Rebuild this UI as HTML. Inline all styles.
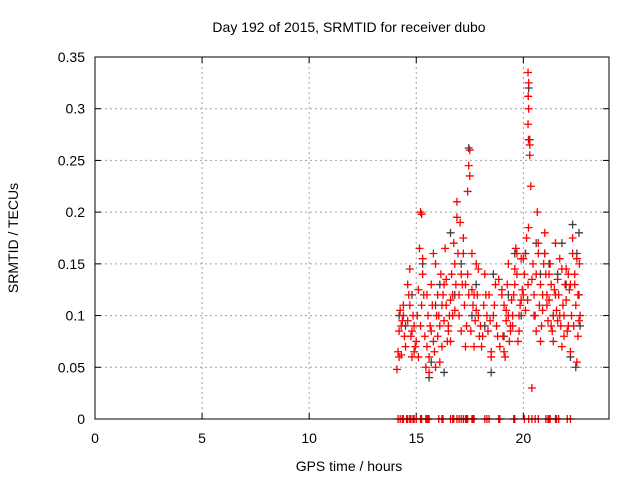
<!DOCTYPE html>
<html><head><meta charset="utf-8">
<style>
body{margin:0;background:#fff;}
svg{display:block;font-family:"Liberation Sans",sans-serif;}
</style></head>
<body>
<svg id="chart" width="640" height="480" viewBox="0 0 640 480" xmlns="http://www.w3.org/2000/svg">
<text x="349" y="32" font-size="14" text-anchor="middle" fill="#000">Day 192 of 2015, SRMTID for receiver dubo</text>
<text x="18" y="238" font-size="14" text-anchor="middle" fill="#000" transform="rotate(-90 18 238)">SRMTID / TECUs</text>
<text x="349" y="471" font-size="14" text-anchor="middle" fill="#000">GPS time / hours</text>
<g id="grid"></g>
<g id="ticks"></g>
<g id="black"></g>
<g id="red"></g>
<rect x="95" y="57" width="514" height="362" fill="none" stroke="#000" stroke-width="1"/>
</svg>
<script>
const xTicks=[0,5,10,15,20];
const yTicks=[0,0.05,0.1,0.15,0.2,0.25,0.3,0.35];
const yTickLabels=["0","0.05","0.1","0.15","0.2","0.25","0.3","0.35"];
const redT=[14.1,14.15,14.2,14.25,14.3,14.35,14.4,14.45,14.5,14.2,14.3,14.4,14.6,14.65,14.7,14.75,14.8,14.85,14.9,14.95,14.6,14.7,14.8,14.9,15.0,15.05,15.1,15.15,15.2,15.25,15.3,15.1,15.2,15.25,15.3,15.35,15.4,15.45,15.5,15.55,15.6,15.65,15.7,15.75,15.8,15.85,15.9,15.95,15.5,15.6,15.7,15.8,15.9,16.0,16.05,16.1,16.15,16.2,16.25,16.3,16.35,16.4,16.45,16.0,16.1,16.2,16.3,16.4,16.5,16.55,16.6,16.65,16.7,16.75,16.8,16.85,16.9,16.95,16.5,16.6,16.7,16.8,16.9,17.0,17.05,17.1,17.15,17.2,17.25,17.3,17.35,17.4,17.45,17.5,17.4,17.45,17.5,17.0,17.1,17.2,17.3,17.55,17.6,17.65,17.7,17.75,17.8,17.85,17.9,17.95,17.6,17.7,17.8,17.9,18.0,18.05,18.1,18.15,18.2,18.25,18.3,18.35,18.4,18.45,18.5,18.6,18.7,18.8,18.5,18.65,18.75,18.85,18.9,19.0,19.05,19.1,19.15,19.2,19.25,19.3,19.35,19.4,19.45,19.0,19.1,19.2,19.3,19.4,19.5,19.55,19.6,19.65,19.7,19.75,19.8,19.85,19.9,19.95,19.5,19.6,19.7,19.8,19.9,20.0,20.05,20.1,20.15,20.0,20.1,20.2,20.22,20.24,20.22,20.25,20.23,20.25,20.22,20.24,20.3,20.3,20.35,20.4,20.45,20.5,20.55,20.6,20.65,20.7,20.75,20.8,20.85,20.9,20.95,20.4,20.5,20.6,20.7,20.8,20.9,21.0,21.05,21.1,21.15,21.2,21.25,21.3,21.35,21.4,21.45,21.0,21.1,21.2,21.3,21.4,21.5,21.55,21.6,21.65,21.7,21.75,21.8,21.85,21.9,21.95,21.5,21.6,21.7,21.8,21.9,22.0,22.05,22.1,22.15,22.2,22.25,22.3,22.35,22.4,22.45,22.5,22.55,22.6,22.65,22.0,22.1,22.2,22.3,22.4,22.5,22.6,22.55,22.62];
const redV=[0.048,0.065,0.085,0.105,0.062,0.095,0.11,0.08,0.07,0.06,0.09,0.1,0.095,0.12,0.145,0.08,0.06,0.1,0.09,0.07,0.13,0.11,0.085,0.065,0.075,0.1,0.125,0.165,0.2,0.198,0.155,0.06,0.09,0.11,0.14,0.12,0.08,0.05,0.07,0.1,0.045,0.09,0.13,0.11,0.075,0.065,0.15,0.1,0.12,0.06,0.085,0.16,0.05,0.08,0.1,0.09,0.14,0.07,0.12,0.095,0.165,0.11,0.075,0.12,0.055,0.11,0.13,0.135,0.09,0.1,0.075,0.14,0.12,0.17,0.105,0.13,0.195,0.16,0.085,0.115,0.1,0.15,0.21,0.12,0.19,0.085,0.13,0.16,0.11,0.07,0.09,0.14,0.12,0.235,0.22,0.245,0.26,0.1,0.14,0.175,0.13,0.085,0.125,0.11,0.07,0.095,0.15,0.12,0.1,0.08,0.16,0.12,0.105,0.145,0.09,0.07,0.08,0.11,0.14,0.12,0.1,0.085,0.12,0.095,0.065,0.1,0.13,0.08,0.06,0.11,0.09,0.135,0.07,0.12,0.08,0.11,0.06,0.095,0.13,0.1,0.075,0.09,0.115,0.125,0.065,0.105,0.15,0.085,0.1,0.12,0.13,0.165,0.14,0.075,0.1,0.11,0.155,0.125,0.09,0.145,0.16,0.085,0.115,0.12,0.14,0.105,0.175,0.155,0.16,0.115,0.13,0.185,0.335,0.325,0.312,0.3,0.285,0.27,0.265,0.255,0.225,0.03,0.15,0.12,0.1,0.14,0.2,0.16,0.11,0.13,0.09,0.12,0.15,0.135,0.1,0.085,0.17,0.075,0.105,0.18,0.14,0.12,0.095,0.115,0.15,0.13,0.085,0.1,0.125,0.16,0.11,0.14,0.09,0.075,0.17,0.105,0.135,0.12,0.1,0.09,0.145,0.11,0.08,0.13,0.12,0.095,0.155,0.07,0.1,0.115,0.085,0.14,0.125,0.065,0.1,0.16,0.09,0.13,0.11,0.155,0.08,0.12,0.1,0.145,0.09,0.13,0.175,0.14,0.055,0.095,0.12,0.15,0.12,0.11,0.1,0.085,0.055,0.058];
const blackT=[14.2,14.5,14.8,15.3,15.6,15.7,15.9,16.1,16.3,16.6,16.8,17.1,17.45,17.6,17.8,18.2,18.5,18.6,19.1,19.3,19.6,19.9,20.1,20.25,20.3,20.6,20.8,21.0,21.2,21.4,21.6,21.8,22.0,22.2,22.3,22.45,22.5,22.6,22.65];
const blackV=[0.1,0.09,0.12,0.15,0.04,0.055,0.11,0.13,0.045,0.18,0.12,0.15,0.262,0.1,0.13,0.09,0.045,0.14,0.08,0.12,0.16,0.1,0.16,0.32,0.27,0.17,0.14,0.16,0.15,0.1,0.14,0.17,0.13,0.06,0.188,0.05,0.16,0.18,0.09];
const zeroT=[14.15,14.25,14.35,14.4,14.55,14.6,14.7,14.75,14.85,14.9,15.0,15.2,15.25,15.45,15.5,15.55,15.6,16.05,16.2,16.25,16.6,16.7,16.75,16.9,17.0,17.1,17.2,17.3,17.35,17.4,17.6,17.65,17.7,18.2,18.3,18.4,18.85,18.9,19.55,19.6,20.05,20.25,20.4,20.55,20.7,21.05,21.15,21.2,21.25,21.5,21.55,21.65,22.05,22.2];
const NS="http://www.w3.org/2000/svg";
const X0=95,X1=609,Y0=419,Y1=57;
function xs(t){return X0+(t/24)*(X1-X0);}
function ys(v){return Y0-(v/0.35)*(Y0-Y1);}
function mk(tag,a,parent){const e=document.createElementNS(NS,tag);for(const k in a)e.setAttribute(k,a[k]);parent.appendChild(e);return e;}
const grid=document.getElementById('grid'),ticks=document.getElementById('ticks');
xTicks.forEach(t=>{const x=xs(t);
 if(t>0){const g=mk('line',{x1:x,x2:x,y1:Y1,y2:Y0,stroke:'#a0a0a0','stroke-dasharray':'2,3'},grid);
 
 }
 mk('line',{x1:x,x2:x,y1:Y0,y2:Y0-6,stroke:'#000'},ticks);mk('line',{x1:x,x2:x,y1:Y1,y2:Y1+6,stroke:'#000'},ticks);
 const l=mk('text',{x:x,y:Y0+24,'font-size':14,'text-anchor':'middle',fill:'#000'},ticks);l.textContent=t;
 
 });
yTicks.forEach((v,i)=>{const y=ys(v);
 if(i>0&&i<yTicks.length-1){const g=mk('line',{x1:X0,x2:X1,y1:y,y2:y,stroke:'#a0a0a0','stroke-dasharray':'2,3'},grid);
 
 }
 mk('line',{x1:X0,x2:X0+6,y1:y,y2:y,stroke:'#000'},ticks);mk('line',{x1:X1,x2:X1-6,y1:y,y2:y,stroke:'#000'},ticks);
 const l=mk('text',{x:X0-10,y:y+5,'font-size':14,'text-anchor':'end',fill:'#000'},ticks);l.textContent=yTickLabels[i];
 
 });
function plus(g,t,v,c){const x=xs(t),y=ys(v);
 const p=mk('path',{d:`M${x-4},${y}h8M${x},${y-4}v8`,stroke:c,'stroke-width':1.3,fill:'none'},g);
 
 }
const bg=document.getElementById('black'),rg=document.getElementById('red');
blackT.forEach((t,i)=>plus(bg,t,blackV[i],'#404040'));
redT.forEach((t,i)=>plus(rg,t,redV[i],'#ff0000'));
zeroT.forEach(t=>plus(rg,t,0,'#ff0000'));
</script>
</body></html>
